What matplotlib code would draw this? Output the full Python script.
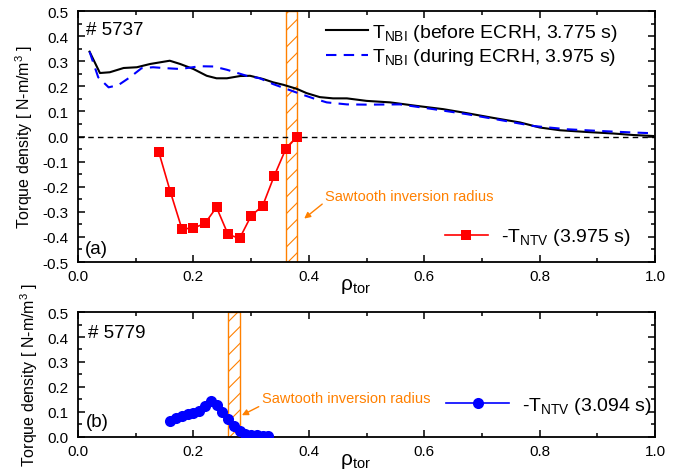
import numpy as np
import matplotlib
matplotlib.use("Agg")
import matplotlib.pyplot as plt
from matplotlib.patches import Rectangle
from matplotlib.ticker import MultipleLocator, FormatStrFormatter

plt.rcParams.update({
    "font.family": "sans-serif",
    "font.sans-serif": ["Liberation Sans", "DejaVu Sans"],
    "mathtext.fontset": "custom",
    "mathtext.rm": "Liberation Sans",
    "mathtext.it": "Liberation Sans:italic",
    "mathtext.bf": "Liberation Sans:bold",
    "font.size": 10.5,
    "axes.linewidth": 1.3,
    "hatch.linewidth": 0.8,
})

# -----------------------------------------------------------------------------
# Data
# -----------------------------------------------------------------------------
# (a) shot 5737, NBI torque before ECRH (3.775 s)
rho_nbi_before = [0.02, 0.038, 0.055, 0.079, 0.102, 0.125, 0.159, 0.177, 0.20,
                  0.223, 0.240, 0.258, 0.281, 0.298, 0.321, 0.338, 0.356, 0.379,
                  0.396, 0.419, 0.442, 0.466, 0.50, 0.541, 0.587, 0.633, 0.674,
                  0.72, 0.766, 0.80, 0.835, 0.882, 0.928, 0.962, 0.997]
t_nbi_before = [0.338, 0.253, 0.256, 0.273, 0.276, 0.289, 0.302, 0.289, 0.269,
                0.242, 0.232, 0.232, 0.241, 0.242, 0.229, 0.216, 0.206, 0.190,
                0.173, 0.157, 0.152, 0.152, 0.142, 0.136, 0.122, 0.109, 0.093,
                0.074, 0.056, 0.036, 0.025, 0.018, 0.012, 0.006, 0.002]

# (a) NBI torque during ECRH (3.975 s)
rho_nbi_during = [0.02, 0.035, 0.053, 0.07, 0.09, 0.11, 0.13, 0.154, 0.177,
                  0.211, 0.235, 0.258, 0.292, 0.315, 0.338, 0.362, 0.385, 0.408,
                  0.431, 0.466, 0.50, 0.558, 0.616, 0.674, 0.731, 0.789, 0.847,
                  0.905, 0.962, 0.997]
t_nbi_during = [0.338, 0.236, 0.196, 0.205, 0.236, 0.272, 0.276, 0.272, 0.269,
                0.280, 0.279, 0.266, 0.242, 0.232, 0.209, 0.189, 0.170, 0.152,
                0.136, 0.128, 0.127, 0.128, 0.109, 0.089, 0.066, 0.042, 0.029,
                0.022, 0.016, 0.013]

# (a) -T_NTV at 3.975 s
rho_ntv_a = [0.14, 0.16, 0.18, 0.20, 0.22, 0.24, 0.26, 0.28, 0.30, 0.32, 0.34,
             0.36, 0.38]
t_ntv_a = [-0.062, -0.220, -0.368, -0.365, -0.346, -0.282, -0.390, -0.406,
           -0.316, -0.276, -0.157, -0.050, 0.0]

# (b) shot 5779, -T_NTV at 3.094 s
rho_ntv_b = [0.16, 0.17, 0.18, 0.19, 0.20, 0.21, 0.22, 0.23, 0.24, 0.25, 0.26,
             0.27, 0.28, 0.29, 0.30, 0.31, 0.32, 0.33]
t_ntv_b = [0.064, 0.075, 0.082, 0.090, 0.097, 0.103, 0.123, 0.145, 0.127,
           0.098, 0.071, 0.044, 0.024, 0.011, 0.007, 0.006, 0.005, 0.004]

# sawtooth inversion radius bands
inv_a = (0.36, 0.38)
inv_b = (0.26, 0.28)

ORANGE = "#FF8000"


def style_axis(ax, ylo, yhi):
    ax.set_xlim(0, 1.0)
    ax.set_ylim(ylo, yhi)
    ax.xaxis.set_major_locator(MultipleLocator(0.2))
    ax.xaxis.set_minor_locator(MultipleLocator(0.1))
    ax.yaxis.set_major_locator(MultipleLocator(0.1))
    ax.yaxis.set_minor_locator(MultipleLocator(0.05))
    ax.xaxis.set_major_formatter(FormatStrFormatter("%.1f"))
    ax.yaxis.set_major_formatter(FormatStrFormatter("%.1f"))
    ax.tick_params(which="both", direction="in", top=True, right=True,
                   labelsize=11, width=1.1)
    ax.tick_params(axis="y", which="major", pad=7)
    ax.tick_params(axis="x", which="major", pad=5)
    ax.tick_params(which="major", length=5)
    ax.tick_params(which="minor", length=3)
    ax.set_xlabel(r"ρ$_{\rm tor}$", fontsize=15)
    ax.xaxis.set_label_coords(0.48, -0.055 if ylo < 0 else -0.11)
    ax.set_ylabel(r"Torque density [ N-m/m$^3$ ]", fontsize=11.5, labelpad=5)


def inversion_band(ax, lo, hi):
    ylo, yhi = ax.get_ylim()
    ax.add_patch(Rectangle((lo, ylo), hi - lo, yhi - ylo, facecolor="none",
                           edgecolor=ORANGE, hatch="//", linewidth=1.0,
                           zorder=1))


fig = plt.figure(figsize=(6.88, 4.77), dpi=100)
ax_a = fig.add_axes([0.1134, 0.4486, 0.8387, 0.5262])
ax_b = fig.add_axes([0.1134, 0.0818, 0.8387, 0.2620])

# -----------------------------------------------------------------------------
# Panel (a)
# -----------------------------------------------------------------------------
style_axis(ax_a, -0.5, 0.5)
ax_a.axhline(0, color="black", linestyle=(0, (4, 3)), linewidth=1.0)
inversion_band(ax_a, *inv_a)
l1, = ax_a.plot(rho_nbi_before, t_nbi_before, color="black", linewidth=1.5)
l2, = ax_a.plot(rho_nbi_during, t_nbi_during, color="#0000FF", linewidth=1.5,
                linestyle=(0, (5, 3.5)))
l3, = ax_a.plot(rho_ntv_a, t_ntv_a, color="#FF0000", linewidth=1.2, marker="s",
                markersize=7.5, markeredgewidth=0, zorder=3)

leg1 = ax_a.legend([l1, l2],
                   [r"T$_{\rm NBI}$ (before ECRH, 3.775 s)",
                    r"T$_{\rm NBI}$ (during ECRH, 3.975 s)"],
                   loc="upper left", bbox_to_anchor=(0.43, 0.958),
                   frameon=False, fontsize=14, handlelength=2.15,
                   handletextpad=0.2, borderpad=0, borderaxespad=0,
                   labelspacing=0.2)
ax_a.add_artist(leg1)
ax_a.legend([l3], [r"-T$_{\rm NTV}$ (3.975 s)"], loc="center left",
            bbox_to_anchor=(0.636, 0.10), frameon=False, fontsize=14,
            handlelength=2.2, handletextpad=0.7, borderpad=0, borderaxespad=0,
            numpoints=1)

ax_a.text(0.014, 0.925, "# 5737", transform=ax_a.transAxes, fontsize=13.5,
          va="center")
ax_a.text(0.012, 0.055, "(a)", transform=ax_a.transAxes, fontsize=13.5,
          va="center")
ax_a.annotate("Sawtooth inversion radius", xy=(0.392, -0.327),
              xytext=(0.428, -0.238), color=ORANGE, fontsize=10.5, va="center",
              arrowprops=dict(arrowstyle="-|>", color=ORANGE, lw=1.0,
                              mutation_scale=9, shrinkA=0, shrinkB=0,
                              relpos=(0, 0.1)))

# -----------------------------------------------------------------------------
# Panel (b)
# -----------------------------------------------------------------------------
style_axis(ax_b, 0.0, 0.5)
inversion_band(ax_b, *inv_b)
l4, = ax_b.plot(rho_ntv_b, t_ntv_b, color="#0000FF", linewidth=1.2,
                marker="o", markersize=8, markeredgewidth=0, zorder=3)
ax_b.legend([l4], [r"-T$_{\rm NTV}$ (3.094 s)"], loc="center left",
            bbox_to_anchor=(0.638, 0.25), frameon=False, fontsize=14,
            handlelength=3.25, handletextpad=0.65, borderpad=0,
            borderaxespad=0, numpoints=1)
ax_b.text(0.018, 0.84, "# 5779", transform=ax_b.transAxes, fontsize=13.5,
          va="center")
ax_b.text(0.014, 0.12, "(b)", transform=ax_b.transAxes, fontsize=13.5,
          va="center")
ax_b.annotate("Sawtooth inversion radius", xy=(0.284, 0.087),
              xytext=(0.318, 0.155), color=ORANGE, fontsize=10.5, va="center",
              arrowprops=dict(arrowstyle="-|>", color=ORANGE, lw=1.0,
                              mutation_scale=9, shrinkA=0, shrinkB=0,
                              relpos=(0, 0.0)))

fig.savefig("out.png", dpi=100)
